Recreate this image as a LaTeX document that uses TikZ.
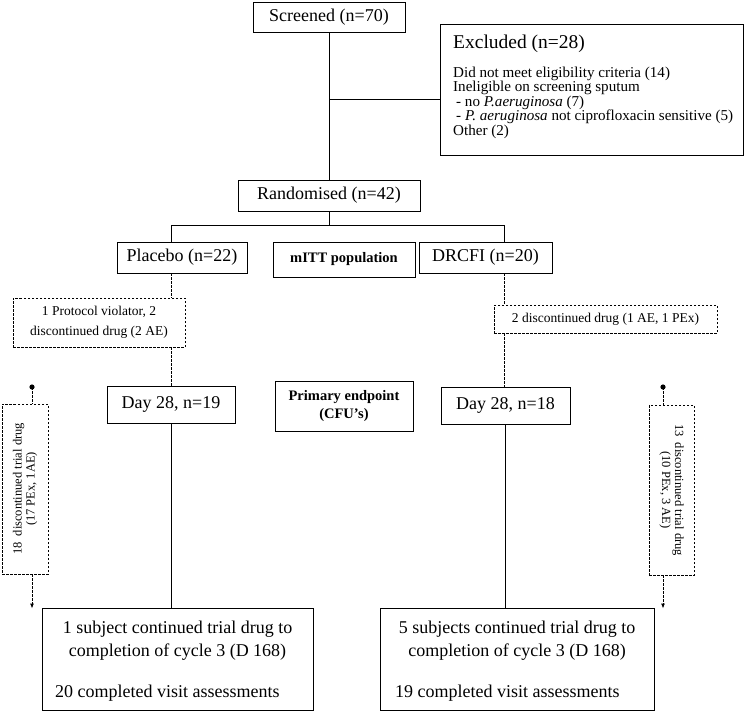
\documentclass[tikz,border=0pt]{standalone}
\usepackage{fontspec}
\setmainfont{Liberation Serif}
\usetikzlibrary{arrows.meta}
\begin{document}
\begin{tikzpicture}[x=1pt,y=-1pt,
  box/.style={draw, line width=0.9pt, inner sep=0pt, align=center, font=\fontsize{18}{22}\selectfont},
  dbox/.style={draw, line width=0.9pt, dash pattern=on 2.5pt off 1.5pt, inner sep=0pt, align=center, font=\fontsize{13.5}{20}\selectfont},
  ln/.style={line width=0.8pt},
  dln/.style={line width=0.9pt, dash pattern=on 2.5pt off 1.5pt},
  bigtxt/.style={inner sep=0pt, font=\fontsize{18}{22}\selectfont},
  smtxt/.style={inner sep=0pt, anchor=base west, text height=10pt, text depth=3pt, font=\fontsize{15.1}{14.5}\selectfont},
  rottxt/.style={inner sep=0pt, align=center, font=\fontsize{12.5}{13}\selectfont},
  boldtxt/.style={font=\fontsize{14.5}{18}\selectfont\bfseries}
]
\useasboundingbox (0,0) rectangle (750,713);
\fill[white] (0,0) rectangle (750,713);

% top
\node[box, minimum width=152pt, minimum height=30pt] (scr) at (329,17) {Screened (n=70)};
\node[box, minimum width=303pt, minimum height=131pt] (exc) at (591.5,89.5) {};
\node[inner sep=0pt, anchor=base west, font=\fontsize{19.5}{22}\selectfont] (exct) at (453,48) {Excluded (n=28)};
\node[smtxt] (e1) at (453,77) {Did not meet eligibility criteria (14)};
\node[smtxt] (e2) at (453,91.5) {Ineligible on screening sputum};
\node[smtxt] (e3) at (453,106) {\hspace{3pt}- no \textit{P.aeruginosa} (7)};
\node[smtxt] (e4) at (453,120.5) {\hspace{3pt}- \textit{P. aeruginosa} not ciprofloxacin sensitive (5)};
\node[smtxt] (e5) at (453,135) {Other (2)};

\node[box, minimum width=182pt, minimum height=31pt] (rand) at (329,195.5) {Randomised (n=42)};

\node[box, minimum width=130pt, minimum height=31pt] (plac) at (182,257.5) {Placebo (n=22)};
\node[box, minimum width=142pt, minimum height=35pt, boldtxt] (mitt) at (344,259.5) {mITT population};
\node[box, minimum width=133pt, minimum height=31pt] (drc) at (485.5,257.5) {DRCFI (n=20)};

\node[dbox, minimum width=172pt, minimum height=49pt] (pd) at (99,322.5) {1 Protocol violator, 2\\discontinued drug (2 AE)};
\node[dbox, minimum width=223pt, minimum height=28pt] (dd) at (605.5,319) {2 discontinued drug (1 AE, 1 PEx)};

\node[box, minimum width=128pt, minimum height=37pt] (d28a) at (171,404.5) {Day 28, n=19};
\node[box, minimum width=138pt, minimum height=50pt, boldtxt] (prim) at (344,406) {Primary endpoint\\(CFU's)};
\node[box, minimum width=129pt, minimum height=37pt] (d28b) at (505.5,405.5) {Day 28, n=18};

\node[dbox, minimum width=46pt, minimum height=170pt] (ld) at (25,489) {};
\node[rottxt, rotate=90] (ldt) at (ld.center) {18\ \ discontinued trial drug\\(17 PEx, 1AE)};
\node[dbox, minimum width=45pt, minimum height=170pt] (rd) at (671.5,490) {};
\node[rottxt, rotate=-90] (rdt) at (rd.center) {13\ \ discontinued trial drug\\(10 PEx, 3 AE)};

\node[box, minimum width=271pt, minimum height=102pt] (bl) at (177.5,659) {};
\node[bigtxt, anchor=base] (bl1) at (177.5,633) {1 subject continued trial drug to};
\node[bigtxt, anchor=base] (bl2) at (177.5,656) {completion of cycle 3 (D 168)};
\node[bigtxt, anchor=base west] (bl3) at (55,697) {20 completed visit assessments};

\node[box, minimum width=274pt, minimum height=102pt] (br) at (517,659) {};
\node[bigtxt, anchor=base] (br1) at (517,633) {5 subjects continued trial drug to};
\node[bigtxt, anchor=base] (br2) at (517,656) {completion of cycle 3 (D 168)};
\node[bigtxt, anchor=base west] (br3) at (395,697) {19 completed visit assessments};

% connectors
\coordinate (jx) at (329,99);
\draw[ln] (scr.south) -- (rand.north);
\draw[ln] (jx) -- (jx -| exc.west);

\coordinate (pl) at (171,225);
\coordinate (pr) at (504,225);
\draw[ln] (rand.south) -- (rand.south |- pl);
\draw[ln] (pl |- plac.north) -- (pl) -- (pr) -- (pr |- drc.north);

\draw[dln] (pl |- plac.south) -- (pl |- pd.north);
\draw[dln] (pl |- pd.south) -- (pl |- d28a.north);
\draw[dln] (pr |- drc.south) -- (pr |- dd.north);
\draw[dln] (pr |- dd.south) -- (pr |- d28b.north);

\draw[ln] (d28a.south) -- (d28a.south |- bl.north);
\draw[ln] (d28b.south) -- (d28b.south |- br.north);

\coordinate (ldot) at (32,387);
\coordinate (rdot) at (663,387);
\fill (ldot) circle (2.6pt);
\fill (rdot) circle (2.6pt);
\draw[dln] (ldot) -- (ldot |- ld.north);
\draw[dln] (rdot) -- (rdot |- rd.north);
\draw[dln, -{Latex[length=5pt,width=4pt]}] (ldot |- ld.south) -- ([yshift=-1pt]ldot |- bl.north);
\draw[dln, -{Latex[length=5pt,width=4pt]}] (rdot |- rd.south) -- ([yshift=-1pt]rdot |- br.north);
\end{tikzpicture}
\end{document}
